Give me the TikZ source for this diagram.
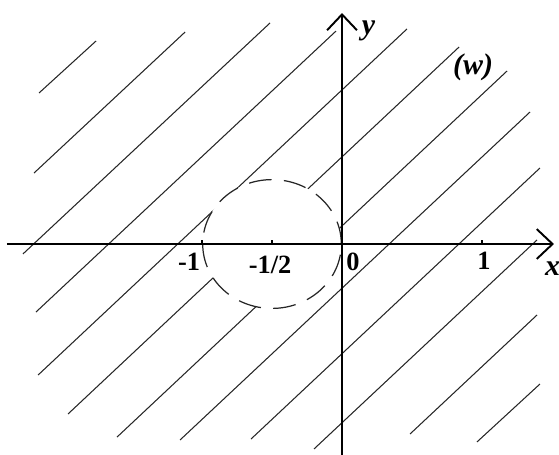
\documentclass[tikz,border=0pt]{standalone}
\usepackage{fontspec}
\setmainfont{Liberation Serif}
\usetikzlibrary{arrows.meta}
\tikzset{
  hatch/.style={line width=0.6pt, color=black!85},
  axis/.style={line width=1.2pt, -{Straight Barb[length=9pt, width=17pt, line width=1.1pt]}},
  tickmark/.style={line width=0.8pt},
  lbl/.style={font=\fontsize{15}{17}\selectfont\bfseries, inner sep=0pt},
  varlbl/.style={font=\fontsize{17}{19}\selectfont\bfseries\itshape, inner sep=0pt},
  hole/.style={dash pattern=on 13pt off 7pt, line width=0.7pt, color=black!85}
}
\begin{document}
\begin{tikzpicture}[x=2.8cm, y=2.8cm]
  \useasboundingbox (-2.443,-1.507) rectangle (1.55,1.743);

  % hatching of the image region
  \draw[hatch] (-2.164,1.079) -- (-1.757,1.450);
  \draw[hatch] (-2.200,0.507) -- (-1.121,1.514);
  \draw[hatch] (-2.279,-0.071) -- (-0.514,1.579);
  \draw[hatch] (-2.186,-0.486) -- (-0.043,1.521);
  \draw[hatch] (-2.171,-0.936) -- (0.464,1.536);
  \draw[hatch] (-1.957,-1.214) -- (0.836,1.407);
  \draw[hatch] (-1.607,-1.379) -- (1.179,1.236);
  \draw[hatch] (-1.157,-1.400) -- (1.343,0.943);
  \draw[hatch] (-0.650,-1.393) -- (1.414,0.543);
  \draw[hatch] (-0.200,-1.464) -- (1.393,0.029);
  \draw[hatch] (0.486,-1.357) -- (1.393,-0.507);
  \draw[hatch] (0.964,-1.414) -- (1.414,-1.000);

  % the excluded disc round -1/2
  \fill[white] (-0.5,0) ellipse (0.495 and 0.46);
  \draw[hole] (-0.5,0) ellipse (0.495 and 0.46);

  % axes
  \draw[axis] (-2.393,0) -- (1.514,0);
  \draw[axis] (0,-1.507) -- (0,1.65);
  \foreach \t in {-1,-0.5,1}
    \draw[tickmark] (\t,0) -- (\t,0.03);

  \node[lbl] (mone) at (-1.093,-0.129) {-1};
  \node[lbl] (mhalf) at (-0.514,-0.150) {-1/2};
  \node[lbl] (zero) at (0.079,-0.129) {0};
  \node[lbl] (one) at (1.014,-0.121) {1};
  \node[varlbl] (xlab) at (1.505,-0.175) {x};
  \node[varlbl] (ylab) at (0.190,1.525) {y};
  \node[varlbl] (wlab) at (0.936,1.264) {(w)};
\end{tikzpicture}
\end{document}
